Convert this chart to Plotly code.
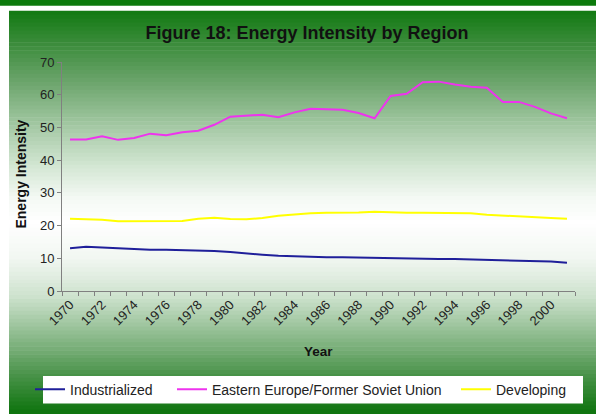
import plotly.graph_objects as go

# ---------------- data ----------------
years = list(range(1970, 2002))
industrialized = [13.1, 13.5, 13.3, 13.0, 12.8, 12.6, 12.6, 12.5, 12.3, 12.2,
                  11.9, 11.4, 11.1, 10.8, 10.6, 10.4, 10.3, 10.3, 10.2, 10.0,
                  10.0, 10.0, 9.9, 9.8, 9.8, 9.7, 9.5, 9.4, 9.3, 9.2, 9.0, 8.6]
eefsu = [46.3, 46.3, 47.3, 46.2, 46.8, 48.1, 47.6, 48.5, 49.0, 50.8,
         53.3, 53.5, 53.9, 53.1, 54.6, 55.7, 55.5, 55.4, 54.4, 52.8,
         59.6, 60.3, 63.8, 64.0, 63.1, 62.4, 62.1, 57.8, 57.8, 56.3, 54.3, 52.8]
developing = [22.1, 21.9, 21.8, 21.3, 21.3, 21.3, 21.3, 21.4, 22.1, 22.4,
              22.0, 21.9, 22.3, 23.0, 23.4, 23.8, 23.9, 23.9, 24.0, 24.2,
              24.0, 23.9, 23.9, 23.9, 23.8, 23.8, 23.3, 23.0, 22.8, 22.5, 22.3, 22.1]
tick_years = list(range(1970, 2001, 2))
tick_labels = [str(y) for y in tick_years]
y_ticks = [0, 10, 20, 30, 40, 50, 60, 70]

# ---------------- geometry ----------------
W, H = 596, 417
L, R, T, B = 62, 21, 62, 123
PW, PH = W - L - R, H - T - B


def px_x(px):
    return (px - L) / PW


def px_y(py):
    return (H - B - py) / PH


FONT = "Arial, Liberation Sans, sans-serif"

fig = go.Figure()
fig.add_trace(go.Scatter(x=years, y=industrialized, mode="lines", name="Industrialized",
                         line=dict(color="#1f1f9a", width=2), legend="legend"))
fig.add_trace(go.Scatter(x=years, y=eefsu, mode="lines", name="Eastern Europe/Former Soviet Union",
                         line=dict(color="#ee33ee", width=2), legend="legend2"))
fig.add_trace(go.Scatter(x=years, y=developing, mode="lines", name="Developing",
                         line=dict(color="#ffff00", width=2), legend="legend3"))

# ---------------- background gradient ----------------
stops = [
    (10, (18, 122, 18)),
    (40, (55, 138, 55)),
    (80, (105, 163, 105)),
    (130, (168, 203, 168)),
    (170, (214, 232, 214)),
    (200, (244, 249, 244)),
    (225, (255, 255, 255)),
    (260, (242, 247, 242)),
    (300, (205, 226, 205)),
    (340, (140, 186, 140)),
    (380, (72, 146, 72)),
    (417, (14, 116, 14)),
]


def color_at(py):
    for (y0, c0), (y1, c1) in zip(stops[:-1], stops[1:]):
        if y0 <= py <= y1:
            t = (py - y0) / (y1 - y0)
            c = [round(a + (b - a) * t) for a, b in zip(c0, c1)]
            return "rgb(%d,%d,%d)" % tuple(c)
    return "rgb(%d,%d,%d)" % stops[-1][1]


shapes = []
step = 4
py = 10
while py < 418:
    py1 = min(py + step, 418)
    shapes.append(dict(type="rect", xref="paper", yref="paper", layer="below",
                       x0=px_x(9), x1=px_x(597), y0=px_y(py1 + 0.6), y1=px_y(py),
                       fillcolor=color_at((py + py1) / 2), line=dict(width=0)))
    py = py1
# top dark band
shapes.append(dict(type="rect", xref="paper", yref="paper", layer="below",
                   x0=px_x(-1), x1=px_x(597), y0=px_y(5), y1=px_y(-1),
                   fillcolor="rgb(12,122,12)", line=dict(width=0)))
# legend box
shapes.append(dict(type="rect", xref="paper", yref="paper", layer="below",
                   x0=px_x(43), x1=px_x(583), y0=px_y(408), y1=px_y(380),
                   fillcolor="white", line=dict(width=0)))

annotations = [
    dict(text="<b>Energy Intensity</b>", textangle=-90, xref="paper", yref="paper",
         x=px_x(21), y=px_y(176), showarrow=False, font=dict(family=FONT, size=14, color="#111"),
         xanchor="center", yanchor="middle"),
    dict(text="<b>Year</b>", xref="paper", yref="paper",
         x=px_x(318), y=px_y(355), showarrow=False, font=dict(family=FONT, size=13.5, color="#111"),
         xanchor="center", yanchor="middle"),
]

leg_common = dict(orientation="h", yanchor="middle", y=px_y(394), xanchor="left",
                  bgcolor="rgba(0,0,0,0)", font=dict(family=FONT, size=14, color="#222"),
                  borderwidth=0)

fig.update_layout(
    width=W, height=H,
    margin=dict(l=L, r=R, t=T, b=B),
    paper_bgcolor="white",
    plot_bgcolor="rgba(0,0,0,0)",
    title=dict(text="<b>Figure 18: Energy Intensity by Region</b>", x=307 / W, xanchor="center",
               xref="container", yref="container", y=1 - 33 / H, yanchor="middle",
               font=dict(family=FONT, size=18, color="#111")),
    xaxis=dict(range=[1969.5, 2001.5], tickvals=tick_years, ticktext=tick_labels,
               tickangle=-45, showgrid=False, zeroline=False, showline=True,
               linecolor="#808080", linewidth=1, ticks="",
               tickfont=dict(family=FONT, size=13, color="#222"),
               minor=dict(tick0=1969.5, dtick=1, ticks="outside", ticklen=4, tickcolor="#808080",
                          showgrid=False)),
    yaxis=dict(range=[0, 70], tickvals=y_ticks, showgrid=False, zeroline=False, showline=True,
               linecolor="#808080", linewidth=1, ticks="outside", ticklen=4, tickcolor="#808080",
               tickfont=dict(family=FONT, size=13, color="#222")),
    shapes=shapes,
    annotations=annotations,
    showlegend=True,
    legend=dict(x=px_x(30), **leg_common),
    legend2=dict(x=px_x(172), **leg_common),
    legend3=dict(x=px_x(456), **leg_common),
)

fig.write_html("out.html",
               config={"displayModeBar": False},
               post_script="document.body.style.margin='0px';document.body.style.overflow='hidden';")
